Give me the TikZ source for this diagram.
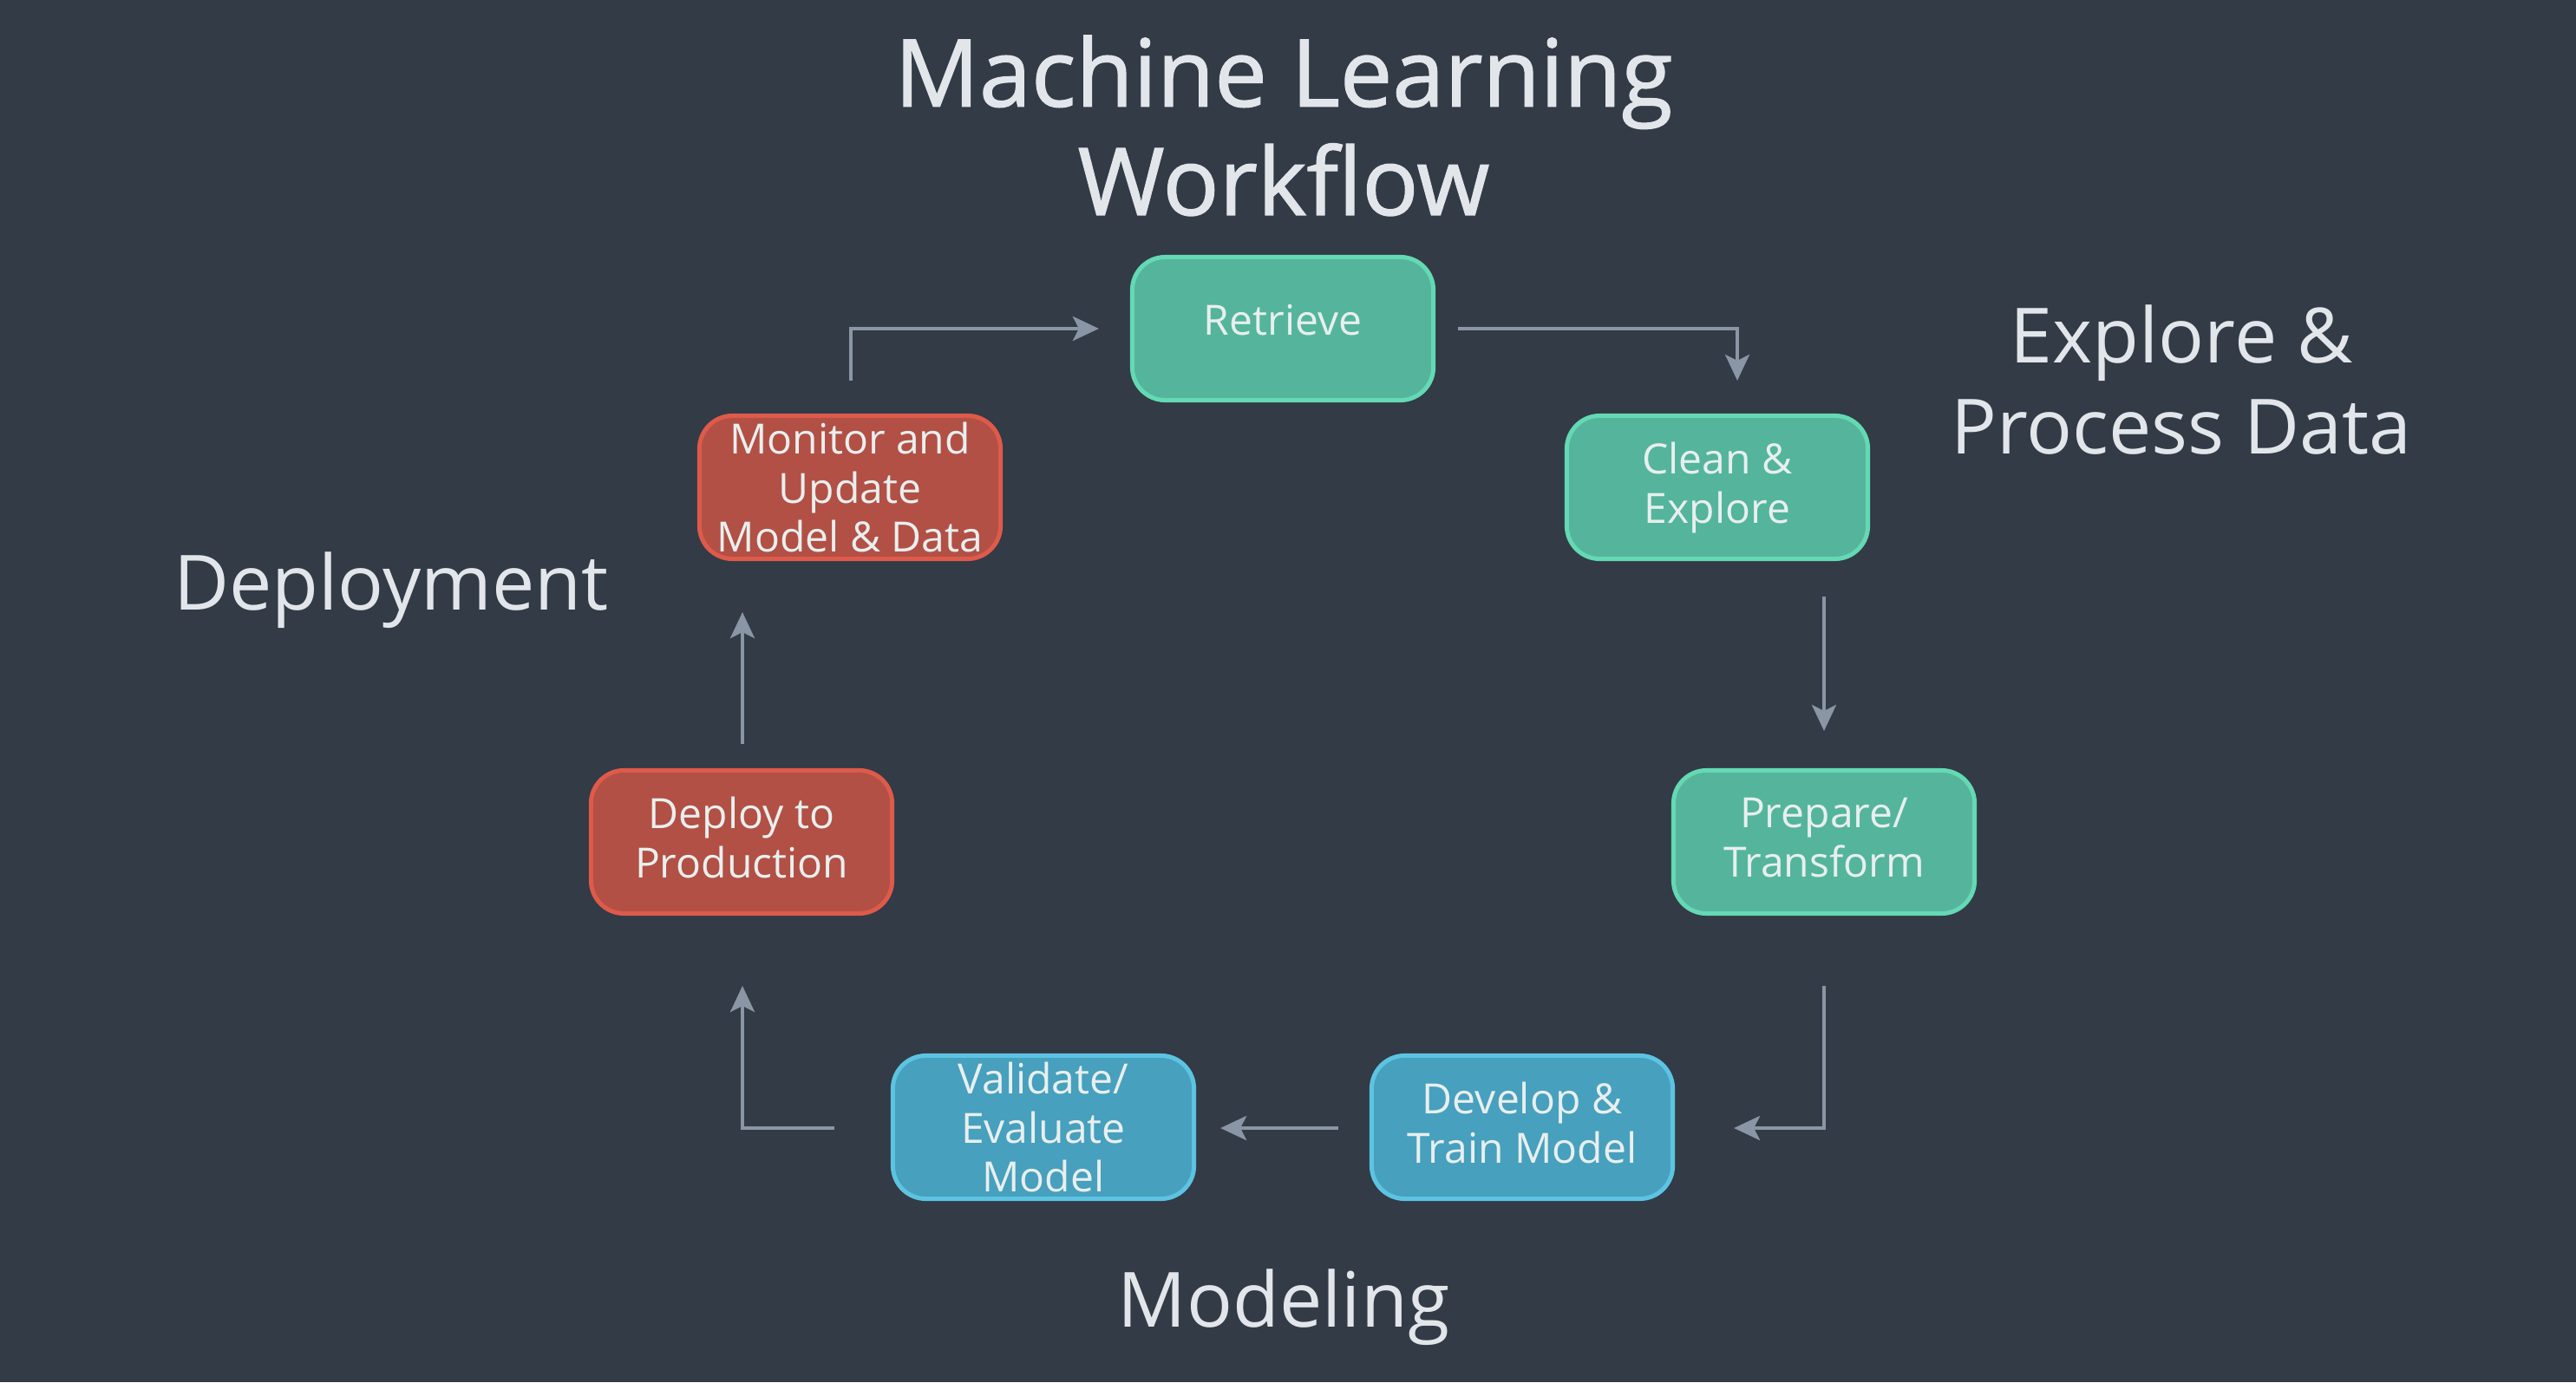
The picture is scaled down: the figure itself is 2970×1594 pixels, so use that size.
\documentclass[tikz,border=0pt]{standalone}
\usepackage{fontspec}
\setmainfont{Open Sans}
\newfontfamily\titlefont{Open Sans}[FakeBold=1.2]
\usetikzlibrary{arrows.meta,calc}
\definecolor{bg}{HTML}{323B46}
\definecolor{tealfill}{HTML}{54B59C}
\definecolor{tealline}{HTML}{64D9B3}
\definecolor{redfill}{HTML}{B25045}
\definecolor{redline}{HTML}{DE5A4A}
\definecolor{bluefill}{HTML}{47A0BD}
\definecolor{blueline}{HTML}{5CC4E2}
\definecolor{arrowcol}{HTML}{8A96A6}
\definecolor{nodetext}{HTML}{E8EFEE}
\definecolor{labeltext}{HTML}{E2E6EA}
\tikzset{
  box/.style={rounded corners=0.38cm, line width=0.05cm, minimum width=3.47cm,
    minimum height=1.65cm, inner sep=0pt, align=center, text=nodetext,
    font=\fontsize{13.66pt}{16.2pt}\selectfont},
  tealbox/.style={box, fill=tealfill, draw=tealline},
  redbox/.style={box, fill=redfill, draw=redline},
  bluebox/.style={box, fill=bluefill, draw=blueline},
  arr/.style={draw=arrowcol, line width=0.04cm,
    -{Stealth[length=0.3cm, width=0.28cm, inset=0.07cm]}},
  biglabel/.style={text=labeltext, align=center, anchor=base,
    font=\fontsize{25pt}{29.6pt}\selectfont},
}
\begin{document}
\begin{tikzpicture}[x=0.01cm, y=-0.01cm]
\fill[bg] (0,0) rectangle (2970,1594);
\useasboundingbox (0,0) rectangle (2970,1594);

% titles and section labels (base anchor = baseline of last line)
\node[text=labeltext, align=center, anchor=base,
  font=\titlefont\fontsize{30.7pt}{35.6pt}\selectfont] (title) at (1480,248)
  {Machine Learning\\Workflow};
\node[biglabel] (explore) at (2515,523) {Explore \&\\Process Data};
\node[biglabel] (deploylab) at (451,703) {Deployment};
\node[biglabel] (modellab) at (1480,1530) {Modeling};

% nodes
\node[tealbox, text depth=0.2cm] (ret) at (1479,379) {Retrieve};
\node[tealbox, text depth=0.1cm] (cle) at (1980,562) {Clean \&\\Explore};
\node[tealbox, text depth=0.1cm] (pre) at (2103,971) {Prepare/\\Transform};
\node[bluebox, text depth=0.1cm] (dev) at (1755,1300) {Develop \&\\Train Model};
\node[bluebox] (val) at (1203,1300) {Validate/\\Evaluate\\Model};
\node[redbox, text depth=0.1cm] (dep) at (855,971) {Deploy to\\Production};
\node[redbox] (mon) at (980,562) {Monitor and\\Update\\Model \& Data};

% connectors
\draw[arr] ($(ret.east)+(26,0)$) -| ($(cle.north)+(23,-38)$);
\draw[arr] ($(cle.south -| pre.south)+(0,41)$) -- ($(pre.north)+(0,-43)$);
\draw[arr] ($(pre.south)+(0,81)$) |- ($(dev.east)+(68,1)$);
\draw[arr] ($(dev.west)+(-36,1)$) -- ($(val.east)+(28,1)$);
\draw[arr] ($(val.west)+(-65,1)$) -| ($(dep.south)+(1,81)$);
\draw[arr] ($(dep.north)+(1,-28)$) -- ($(mon.south -| dep.south)+(1,59)$);
\draw[arr] ($(mon.north)+(1,-38)$) |- ($(ret.west)+(-36,0)$);
\end{tikzpicture}
\end{document}
